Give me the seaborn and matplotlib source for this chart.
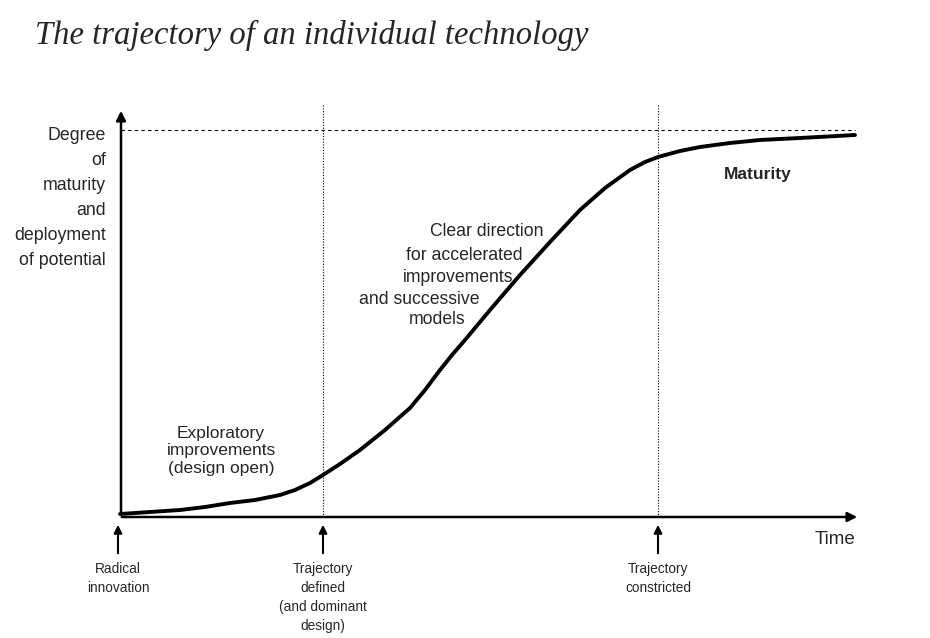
import matplotlib
matplotlib.use("Agg")
import matplotlib.pyplot as plt
import seaborn as sns

sns.set_style("white")
plt.rcParams['font.family'] = ['Liberation Sans', 'DejaVu Sans']

# curve (diagram space: x right, y down)
time = [120, 150, 180, 205, 230, 255, 280, 295, 310, 323, 340, 360, 385, 410, 425, 440, 452, 465, 490, 520, 550, 580, 605, 630, 645, 658, 680, 700, 730, 760, 800, 855]
maturity = [514, 512, 510, 507, 503, 500, 495, 490, 483, 475, 464, 450, 430, 408, 390, 370, 355, 340, 310, 275, 242, 210, 188, 170, 162, 157, 151, 147, 143, 140, 138, 135]
milestones = [118, 323, 658]
milestone_labels = ["Radical\ninnovation", "Trajectory\ndefined\n(and dominant\ndesign)", "Trajectory\nconstricted"]

fig = plt.figure(figsize=(9.30, 6.38), dpi=100)
ax = fig.add_axes([0, 0, 1, 1])
ax.set_xlim(0, 930); ax.set_ylim(638, 0); ax.axis("off")

sns.lineplot(x=time, y=maturity, ax=ax, color="black", lw=2.8, sort=False)

ax.annotate("", xy=(121, 108), xytext=(121, 517), arrowprops=dict(arrowstyle="-|>", color="black", lw=1.8, mutation_scale=14))
ax.annotate("", xy=(860, 517), xytext=(119, 517), arrowprops=dict(arrowstyle="-|>", color="black", lw=1.8, mutation_scale=14))
ax.plot([121, 855], [130, 130], color="black", lw=0.8, ls=(0, (3, 3)))
for m in milestones[1:]:
    ax.plot([m, m], [105, 515], color="black", lw=0.8, ls=(0, (1, 1.5)))
for m, lab in zip(milestones, milestone_labels):
    ax.annotate("", xy=(m, 522), xytext=(m, 556), arrowprops=dict(arrowstyle="-|>", color="black", lw=1.5, mutation_scale=12))
    ax.text(m, 562, lab, ha="center", va="top", fontsize=9.8, linespacing=1.45)

ax.text(35, 35, "The trajectory of an individual technology", fontsize=23.5, style="italic",
        family=["Liberation Serif", "DejaVu Serif"], va="center")
ax.text(106, 198, "Degree\nof\nmaturity\nand\ndeployment\nof potential", ha="right", va="center", fontsize=12.8, linespacing=1.62)
ax.text(855, 540, "Time", ha="right", va="center", fontsize=13.5)
ax.text(221, 451, "Exploratory\nimprovements\n(design open)", ha="center", va="center", fontsize=12.5, linespacing=1.2)
ax.text(487, 232, "Clear direction", ha="center", va="center", fontsize=12.7)
ax.text(464, 255, "for accelerated", ha="center", va="center", fontsize=12.7)
ax.text(458, 277, "improvements", ha="center", va="center", fontsize=12.7)
ax.text(419, 300, "and successive", ha="center", va="center", fontsize=12.7)
ax.text(437, 319, "models", ha="center", va="center", fontsize=12.7)
ax.text(758, 175, "Maturity", ha="center", va="center", fontsize=12.5, weight="bold")

fig.savefig("out.png", dpi=100)
